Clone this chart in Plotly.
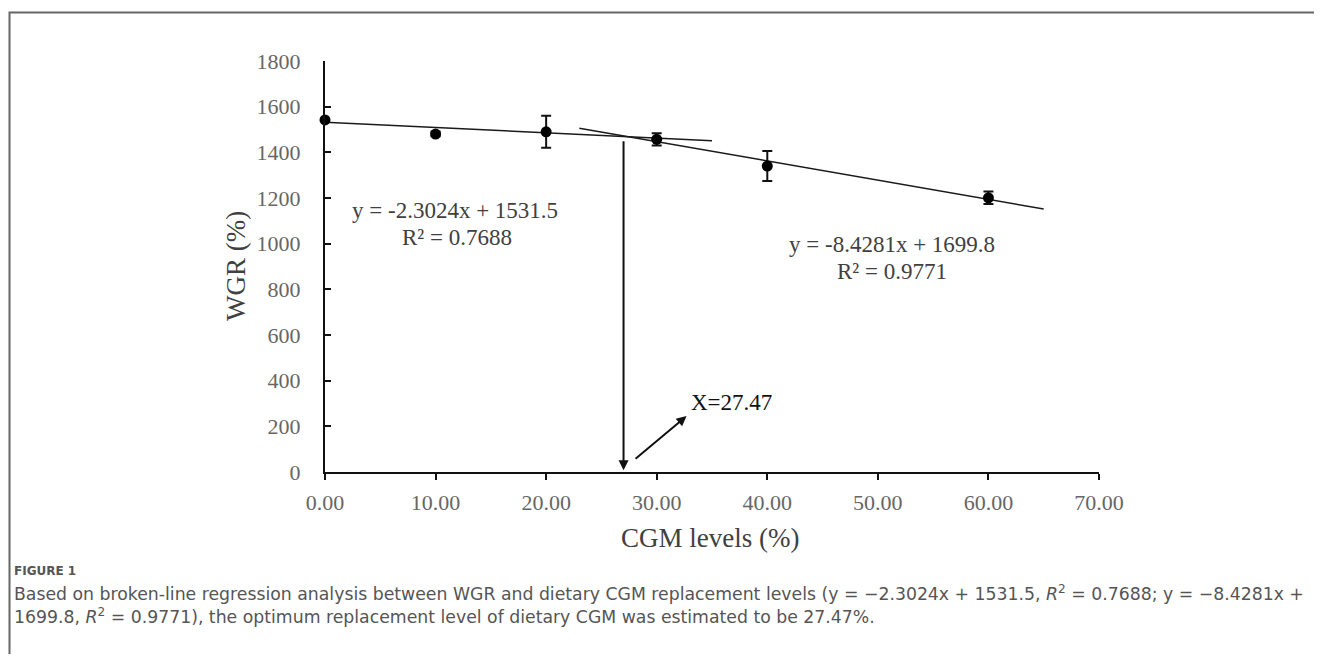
import plotly.graph_objects as go

# ---- data ----
cgm_levels = [0, 10, 20, 30, 40, 60]
wgr_mean = [1542, 1480, 1490, 1457, 1340, 1201]
wgr_err = [0, 10, 70, 27, 66, 27]

line1_x = [0, 35]
line1_slope, line1_icpt = -2.3024, 1531.5
line2_x = [23, 65]
line2_slope, line2_icpt = -8.4281, 1699.8
break_x = 27.0
x_ticks = [0, 10, 20, 30, 40, 50, 60, 70]
y_ticks = [0, 200, 400, 600, 800, 1000, 1200, 1400, 1600, 1800]

OFF = 8  # page body margin
W, H = 1322 - 2 * OFF, 662 - 2 * OFF
L, R, T, B = 325, 1099, 61, 472  # plot area in screen pixels

def px(xp):
    return (xp - L) / (R - L)

def py(yp):
    return (B - yp) / (B - T)

fig = go.Figure()

fig.add_trace(go.Scatter(
    x=line1_x, y=[line1_slope * v + line1_icpt for v in line1_x],
    mode="lines", line=dict(color="#1a1a1a", width=1.5), showlegend=False, hoverinfo="skip"))
fig.add_trace(go.Scatter(
    x=line2_x, y=[line2_slope * v + line2_icpt for v in line2_x],
    mode="lines", line=dict(color="#1a1a1a", width=1.5), showlegend=False, hoverinfo="skip"))

fig.add_trace(go.Scatter(
    x=cgm_levels, y=wgr_mean, mode="markers",
    marker=dict(color="black", size=11),
    error_y=dict(type="data", array=wgr_err, visible=True, color="#111", thickness=2, width=5),
    showlegend=False, cliponaxis=False))

serif = "Liberation Serif, Times New Roman, serif"
sans = "DejaVu Sans, Open Sans, sans-serif"

def note(xp, yp, text, size, color, xanchor="center", family=serif, **kw):
    return dict(x=px(xp), y=py(yp), xref="paper", yref="paper", text=text, showarrow=False,
                xanchor=xanchor, yanchor="middle", font=dict(family=family, size=size, color=color), **kw)

annotations = []
# vertical arrow at breakpoint
bp_y = line1_slope * break_x + line1_icpt - 14
annotations.append(dict(x=break_x, y=8, ax=break_x, ay=bp_y, xref="x", yref="y", axref="x", ayref="y",
                        text="", showarrow=True, arrowhead=2, arrowsize=1, arrowwidth=2, arrowcolor="#111"))
annotations.append(dict(x=32.7, y=245, ax=27.95, ay=53, xref="x", yref="y", axref="x", ayref="y",
                        text="", showarrow=True, arrowhead=2, arrowsize=1, arrowwidth=2, arrowcolor="#111"))
annotations.append(note(689, 402, "X=27.47", 23, "#111", xanchor="left"))

eq_color = "#404040"
annotations.append(note(455, 210, "y = -2.3024x + 1531.5", 23, eq_color))
annotations.append(note(457, 237, "R² = 0.7688", 23, eq_color))
annotations.append(note(892, 244, "y = -8.4281x + 1699.8", 23, eq_color))
annotations.append(note(892, 271, "R² = 0.9771", 23, eq_color))

# axis titles
annotations.append(note(236, 266, "WGR (%)", 27, "#404040", textangle=-90))
annotations.append(note(710, 538, "CGM levels (%)", 27, "#404040"))

# caption
annotations.append(note(12, 571, "<b>FIGURE 1</b>", 12, "#555", xanchor="left", family=sans))
annotations.append(note(12, 593,
                        "Based on broken-line regression analysis between WGR and dietary CGM replacement levels (y = \u22122.3024x + 1531.5, <i>R</i><sup>2</sup> = 0.7688; y = \u22128.4281x +",
                        17.3, "#555", xanchor="left", family=sans))
annotations.append(note(12, 616,
                        "1699.8, <i>R</i><sup>2</sup> = 0.9771), the optimum replacement level of dietary CGM was estimated to be 27.47%.",
                        17.3, "#555", xanchor="left", family=sans))

shapes = [dict(type="rect", xref="paper", yref="paper",
               x0=px(9.5), x1=px(1340), y0=py(12.5), y1=py(690),
               line=dict(color="#666", width=2), fillcolor="rgba(0,0,0,0)", layer="below")]

fig.update_layout(
    width=W, height=H,
    margin=dict(l=L - OFF, r=W - (R - OFF), t=T - OFF, b=H - (B - OFF), pad=0),
    paper_bgcolor="white", plot_bgcolor="white",
    showlegend=False,
    annotations=annotations,
    shapes=shapes,
    xaxis=dict(range=[0, 70], tickvals=x_ticks, ticktext=[f"{v:.2f}" for v in x_ticks],
               showgrid=False, zeroline=False, showline=True, linecolor="#111", linewidth=2,
               ticks="outside", ticklen=6, tickwidth=2, tickcolor="#111", ticklabelstandoff=4,
               tickfont=dict(family=serif, size=22, color="#666")),
    yaxis=dict(range=[0, 1800], tickvals=y_ticks,
               showgrid=False, zeroline=False, showline=True, linecolor="#111", linewidth=2,
               ticks="inside", ticklen=6, tickwidth=2, tickcolor="#111", ticklabelstandoff=18,
               tickfont=dict(family=serif, size=22, color="#666")),
)

fig.write_html("out.html")
